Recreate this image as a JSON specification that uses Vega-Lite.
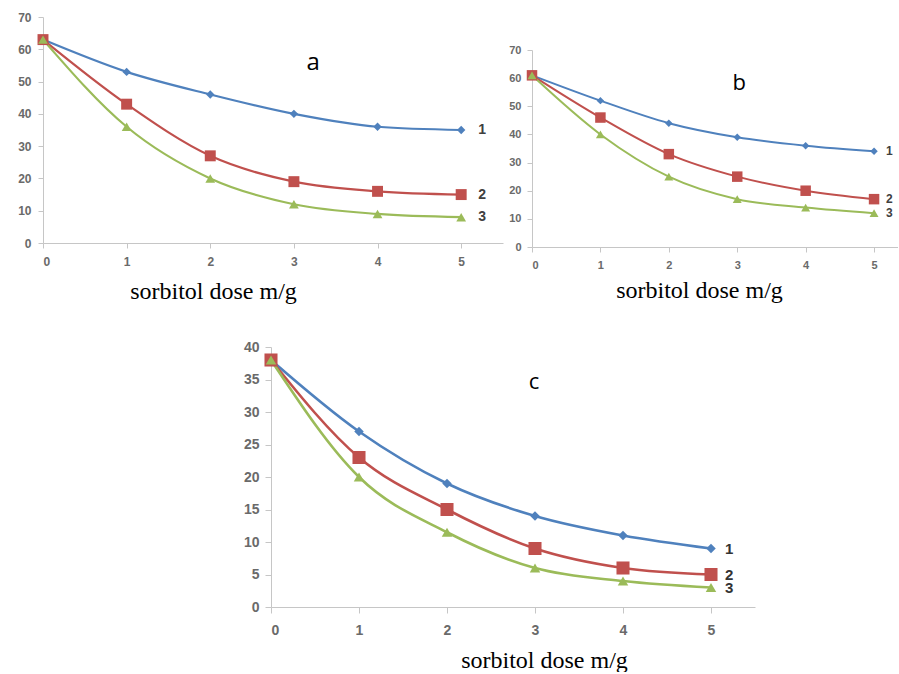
{
  "$schema": "https://vega.github.io/schema/vega-lite/v6.json",
  "padding": {"left": 17, "top": 11, "right": 0, "bottom": 0},
  "datasets": {
    "pts": [
      {"p": "a", "s": "1", "d": 0, "v": 63}, {"p": "a", "s": "1", "d": 1, "v": 53}, {"p": "a", "s": "1", "d": 2, "v": 46}, {"p": "a", "s": "1", "d": 3, "v": 40}, {"p": "a", "s": "1", "d": 4, "v": 36}, {"p": "a", "s": "1", "d": 5, "v": 35},
      {"p": "a", "s": "2", "d": 0, "v": 63}, {"p": "a", "s": "2", "d": 1, "v": 43}, {"p": "a", "s": "2", "d": 2, "v": 27}, {"p": "a", "s": "2", "d": 3, "v": 19}, {"p": "a", "s": "2", "d": 4, "v": 16}, {"p": "a", "s": "2", "d": 5, "v": 15},
      {"p": "a", "s": "3", "d": 0, "v": 63}, {"p": "a", "s": "3", "d": 1, "v": 36}, {"p": "a", "s": "3", "d": 2, "v": 20}, {"p": "a", "s": "3", "d": 3, "v": 12}, {"p": "a", "s": "3", "d": 4, "v": 9}, {"p": "a", "s": "3", "d": 5, "v": 8},
      {"p": "b", "s": "1", "d": 0, "v": 61}, {"p": "b", "s": "1", "d": 1, "v": 52}, {"p": "b", "s": "1", "d": 2, "v": 44}, {"p": "b", "s": "1", "d": 3, "v": 39}, {"p": "b", "s": "1", "d": 4, "v": 36}, {"p": "b", "s": "1", "d": 5, "v": 34},
      {"p": "b", "s": "2", "d": 0, "v": 61}, {"p": "b", "s": "2", "d": 1, "v": 46}, {"p": "b", "s": "2", "d": 2, "v": 33}, {"p": "b", "s": "2", "d": 3, "v": 25}, {"p": "b", "s": "2", "d": 4, "v": 20}, {"p": "b", "s": "2", "d": 5, "v": 17},
      {"p": "b", "s": "3", "d": 0, "v": 61}, {"p": "b", "s": "3", "d": 1, "v": 40}, {"p": "b", "s": "3", "d": 2, "v": 25}, {"p": "b", "s": "3", "d": 3, "v": 17}, {"p": "b", "s": "3", "d": 4, "v": 14}, {"p": "b", "s": "3", "d": 5, "v": 12},
      {"p": "c", "s": "1", "d": 0, "v": 38}, {"p": "c", "s": "1", "d": 1, "v": 27}, {"p": "c", "s": "1", "d": 2, "v": 19}, {"p": "c", "s": "1", "d": 3, "v": 14}, {"p": "c", "s": "1", "d": 4, "v": 11}, {"p": "c", "s": "1", "d": 5, "v": 9},
      {"p": "c", "s": "2", "d": 0, "v": 38}, {"p": "c", "s": "2", "d": 1, "v": 23}, {"p": "c", "s": "2", "d": 2, "v": 15}, {"p": "c", "s": "2", "d": 3, "v": 9}, {"p": "c", "s": "2", "d": 4, "v": 6}, {"p": "c", "s": "2", "d": 5, "v": 5},
      {"p": "c", "s": "3", "d": 0, "v": 38}, {"p": "c", "s": "3", "d": 1, "v": 20}, {"p": "c", "s": "3", "d": 2, "v": 11.5}, {"p": "c", "s": "3", "d": 3, "v": 6}, {"p": "c", "s": "3", "d": 4, "v": 4}, {"p": "c", "s": "3", "d": 5, "v": 3}
    ]
  },
  "vconcat": [
    {
      "hconcat": [
        {
          "width": 460,
          "height": 226,
          "layer": [
            {"data": {"name": "pts"}, "transform": [{"filter": "datum.p === 'a'"}],
              "mark": {"type": "line", "interpolate": "monotone", "strokeWidth": 2.2},
              "encoding": {
                "x": {"field": "d", "type": "quantitative", "scale": {"domain": [0, 5.5], "nice": false},
                  "axis": {"values": [0, 1, 2, 3, 4, 5], "format": "d", "title": "sorbitol dose m/g", "titleX": 170, "titleY": 55, "titleBaseline": "alphabetic", "titleAlign": "center", "labelPadding": 8, "labelFontSize": 12}},
                "y": {"field": "v", "type": "quantitative", "scale": {"domain": [0, 70], "nice": false},
                  "axis": {"values": [0, 10, 20, 30, 40, 50, 60, 70], "format": "d", "title": null, "labelPadding": 7, "labelFontSize": 12}},
                "color": {"field": "s", "type": "nominal", "scale": {"domain": ["1", "2", "3"], "range": ["#4F81BD", "#C0504D", "#9BBB59"]}, "legend": null}}},
            {"data": {"name": "pts"}, "transform": [{"filter": "datum.p === 'a'"}],
              "mark": {"type": "point", "filled": true, "opacity": 1},
              "encoding": {
                "x": {"field": "d", "type": "quantitative",
                  "axis": {"values": [0, 1, 2, 3, 4, 5], "format": "d", "title": "sorbitol dose m/g", "titleX": 170, "titleY": 55, "titleBaseline": "alphabetic", "titleAlign": "center", "labelPadding": 8, "labelFontSize": 12}},
                "y": {"field": "v", "type": "quantitative",
                  "axis": {"values": [0, 10, 20, 30, 40, 50, 60, 70], "format": "d", "title": null, "labelPadding": 7, "labelFontSize": 12}},
                "color": {"field": "s", "type": "nominal", "legend": null},
                "shape": {"field": "s", "type": "nominal", "scale": {"domain": ["1", "2", "3"], "range": ["diamond", "square", "triangle-up"]}, "legend": null},
                "size": {"condition": [{"test": "datum.s === '2'", "value": 120}, {"test": "datum.s === '3'", "value": 95}], "value": 70}
              }},
            {"data": {"name": "pts"}, "transform": [{"filter": "datum.p === 'a' && datum.d === 5"}],
              "mark": {"type": "text", "align": "left", "baseline": "middle", "dx": 17, "fontSize": 14, "fontWeight": "bold", "font": "Liberation Sans", "color": "#404040"},
              "encoding": {
                "x": {"field": "d", "type": "quantitative",
                  "axis": {"values": [0, 1, 2, 3, 4, 5], "format": "d", "title": "sorbitol dose m/g", "titleX": 170, "titleY": 55, "titleBaseline": "alphabetic", "titleAlign": "center", "labelPadding": 8, "labelFontSize": 12}},
                "y": {"field": "v", "type": "quantitative",
                  "axis": {"values": [0, 10, 20, 30, 40, 50, 60, 70], "format": "d", "title": null, "labelPadding": 7, "labelFontSize": 12}},
                "text": {"field": "s"}}},
            {"data": {"values": [{"lab": "a"}]},
              "mark": {"type": "text", "align": "center", "baseline": "middle", "fontSize": 24, "font": "Open Sans", "color": "#000000"},
              "encoding": {
                "x": {"datum": 3.23,
                  "axis": {"values": [0, 1, 2, 3, 4, 5], "format": "d", "title": "sorbitol dose m/g", "titleX": 170, "titleY": 55, "titleBaseline": "alphabetic", "titleAlign": "center", "labelPadding": 8, "labelFontSize": 12}},
                "y": {"datum": 55.7,
                  "axis": {"values": [0, 10, 20, 30, 40, 50, 60, 70], "format": "d", "title": null, "labelPadding": 7, "labelFontSize": 12}},
                "text": {"field": "lab"}}}
          ]
        },
        {
          "vconcat": [
            {"width": 10, "height": 33, "data": {"values": []}, "mark": {"type": "point", "opacity": 0}},
            {
              "width": 366,
              "height": 197,
              "layer": [
                {"data": {"name": "pts"}, "transform": [{"filter": "datum.p === 'b'"}],
                  "mark": {"type": "line", "interpolate": "monotone", "strokeWidth": 2},
                  "encoding": {
                    "x": {"field": "d", "type": "quantitative", "scale": {"domain": [0, 5.35], "nice": false},
                      "axis": {"values": [0, 1, 2, 3, 4, 5], "format": "d", "title": "sorbitol dose m/g", "titleX": 167, "titleY": 50, "titleBaseline": "alphabetic", "titleAlign": "center", "labelPadding": 7, "labelFontSize": 11}},
                    "y": {"field": "v", "type": "quantitative", "scale": {"domain": [0, 70], "nice": false},
                      "axis": {"values": [0, 10, 20, 30, 40, 50, 60, 70], "format": "d", "title": null, "labelPadding": 6, "labelFontSize": 11}},
                    "color": {"field": "s", "type": "nominal", "legend": null}}},
                {"data": {"name": "pts"}, "transform": [{"filter": "datum.p === 'b'"}],
                  "mark": {"type": "point", "filled": true, "opacity": 1},
                  "encoding": {
                    "x": {"field": "d", "type": "quantitative",
                      "axis": {"values": [0, 1, 2, 3, 4, 5], "format": "d", "title": "sorbitol dose m/g", "titleX": 167, "titleY": 50, "titleBaseline": "alphabetic", "titleAlign": "center", "labelPadding": 7, "labelFontSize": 11}},
                    "y": {"field": "v", "type": "quantitative",
                      "axis": {"values": [0, 10, 20, 30, 40, 50, 60, 70], "format": "d", "title": null, "labelPadding": 6, "labelFontSize": 11}},
                    "color": {"field": "s", "type": "nominal", "legend": null},
                    "shape": {"field": "s", "type": "nominal", "legend": null},
                    "size": {"condition": [{"test": "datum.s === '2'", "value": 110}, {"test": "datum.s === '3'", "value": 80}], "value": 55}
                  }},
                {"data": {"name": "pts"}, "transform": [{"filter": "datum.p === 'b' && datum.d === 5"}],
                  "mark": {"type": "text", "align": "left", "baseline": "middle", "dx": 12, "fontSize": 12, "fontWeight": "bold", "font": "Liberation Sans", "color": "#404040"},
                  "encoding": {
                    "x": {"field": "d", "type": "quantitative",
                      "axis": {"values": [0, 1, 2, 3, 4, 5], "format": "d", "title": "sorbitol dose m/g", "titleX": 167, "titleY": 50, "titleBaseline": "alphabetic", "titleAlign": "center", "labelPadding": 7, "labelFontSize": 11}},
                    "y": {"field": "v", "type": "quantitative",
                      "axis": {"values": [0, 10, 20, 30, 40, 50, 60, 70], "format": "d", "title": null, "labelPadding": 6, "labelFontSize": 11}},
                    "text": {"field": "s"}}},
                {"data": {"values": [{"lab": "b"}]},
                  "mark": {"type": "text", "align": "center", "baseline": "middle", "fontSize": 22, "font": "Open Sans", "color": "#000000"},
                  "encoding": {
                    "x": {"datum": 3.03,
                      "axis": {"values": [0, 1, 2, 3, 4, 5], "format": "d", "title": "sorbitol dose m/g", "titleX": 167, "titleY": 50, "titleBaseline": "alphabetic", "titleAlign": "center", "labelPadding": 7, "labelFontSize": 11}},
                    "y": {"datum": 58.3,
                      "axis": {"values": [0, 10, 20, 30, 40, 50, 60, 70], "format": "d", "title": null, "labelPadding": 6, "labelFontSize": 11}},
                    "text": {"field": "lab"}}}
              ]
            }
          ],
          "spacing": 0,
          "bounds": "flush"
        }
      ],
      "spacing": 29,
      "bounds": "flush"
    },
    {
      "hconcat": [
        {"width": 228, "height": 10, "data": {"values": []}, "mark": {"type": "point", "opacity": 0}},
        {
          "width": 484,
          "height": 260,
          "layer": [
            {"data": {"name": "pts"}, "transform": [{"filter": "datum.p === 'c'"}],
              "mark": {"type": "line", "interpolate": "monotone", "strokeWidth": 2.6},
              "encoding": {
                "x": {"field": "d", "type": "quantitative", "scale": {"domain": [0, 5.5], "nice": false},
                  "axis": {"values": [0, 1, 2, 3, 4, 5], "format": "d", "title": "sorbitol dose m/g", "titleX": 273, "titleY": 60, "titleBaseline": "alphabetic", "titleAlign": "center", "labelPadding": 10, "labelFontSize": 14, "tickSize": 6}},
                "y": {"field": "v", "type": "quantitative", "scale": {"domain": [0, 40], "nice": false},
                  "axis": {"values": [0, 5, 10, 15, 20, 25, 30, 35, 40], "format": "d", "title": null, "labelPadding": 6, "labelFontSize": 14, "tickSize": 6}},
                "color": {"field": "s", "type": "nominal", "legend": null}}},
            {"data": {"name": "pts"}, "transform": [{"filter": "datum.p === 'c'"}],
              "mark": {"type": "point", "filled": true, "opacity": 1},
              "encoding": {
                "x": {"field": "d", "type": "quantitative",
                  "axis": {"values": [0, 1, 2, 3, 4, 5], "format": "d", "title": "sorbitol dose m/g", "titleX": 273, "titleY": 60, "titleBaseline": "alphabetic", "titleAlign": "center", "labelPadding": 10, "labelFontSize": 14, "tickSize": 6}},
                "y": {"field": "v", "type": "quantitative",
                  "axis": {"values": [0, 5, 10, 15, 20, 25, 30, 35, 40], "format": "d", "title": null, "labelPadding": 6, "labelFontSize": 14, "tickSize": 6}},
                "color": {"field": "s", "type": "nominal", "legend": null},
                "shape": {"field": "s", "type": "nominal", "legend": null},
                "size": {"condition": [{"test": "datum.s === '2'", "value": 170}, {"test": "datum.s === '3'", "value": 110}], "value": 90}
              }},
            {"data": {"name": "pts"}, "transform": [{"filter": "datum.p === 'c' && datum.d === 5"}],
              "mark": {"type": "text", "align": "left", "baseline": "middle", "dx": 14, "fontSize": 15, "fontWeight": "bold", "font": "Liberation Sans", "color": "#333333"},
              "encoding": {
                "x": {"field": "d", "type": "quantitative",
                  "axis": {"values": [0, 1, 2, 3, 4, 5], "format": "d", "title": "sorbitol dose m/g", "titleX": 273, "titleY": 60, "titleBaseline": "alphabetic", "titleAlign": "center", "labelPadding": 10, "labelFontSize": 14, "tickSize": 6}},
                "y": {"field": "v", "type": "quantitative",
                  "axis": {"values": [0, 5, 10, 15, 20, 25, 30, 35, 40], "format": "d", "title": null, "labelPadding": 6, "labelFontSize": 14, "tickSize": 6}},
                "text": {"field": "s"}}},
            {"data": {"values": [{"lab": "c"}]},
              "mark": {"type": "text", "align": "center", "baseline": "middle", "fontSize": 22, "font": "Open Sans", "color": "#000000"},
              "encoding": {
                "x": {"datum": 2.99,
                  "axis": {"values": [0, 1, 2, 3, 4, 5], "format": "d", "title": "sorbitol dose m/g", "titleX": 273, "titleY": 60, "titleBaseline": "alphabetic", "titleAlign": "center", "labelPadding": 10, "labelFontSize": 14, "tickSize": 6}},
                "y": {"datum": 34.6,
                  "axis": {"values": [0, 5, 10, 15, 20, 25, 30, 35, 40], "format": "d", "title": null, "labelPadding": 6, "labelFontSize": 14, "tickSize": 6}},
                "text": {"field": "lab"}}}
          ]
        }
      ],
      "spacing": 0,
      "bounds": "flush"
    }
  ],
  "spacing": 37,
  "bounds": "full",
  "config": {
    "view": {"stroke": null},
    "axis": {
      "grid": false,
      "domainColor": "#c6c6c6",
      "tickColor": "#c6c6c6",
      "tickSize": 5,
      "labelColor": "#6a6a6a",
      "labelFont": "Liberation Sans",
      "labelFontWeight": "bold",
      "titleFont": "Liberation Serif",
      "titleFontWeight": "normal",
      "titleFontSize": 24,
      "titleColor": "#000000"
    }
  }
}
